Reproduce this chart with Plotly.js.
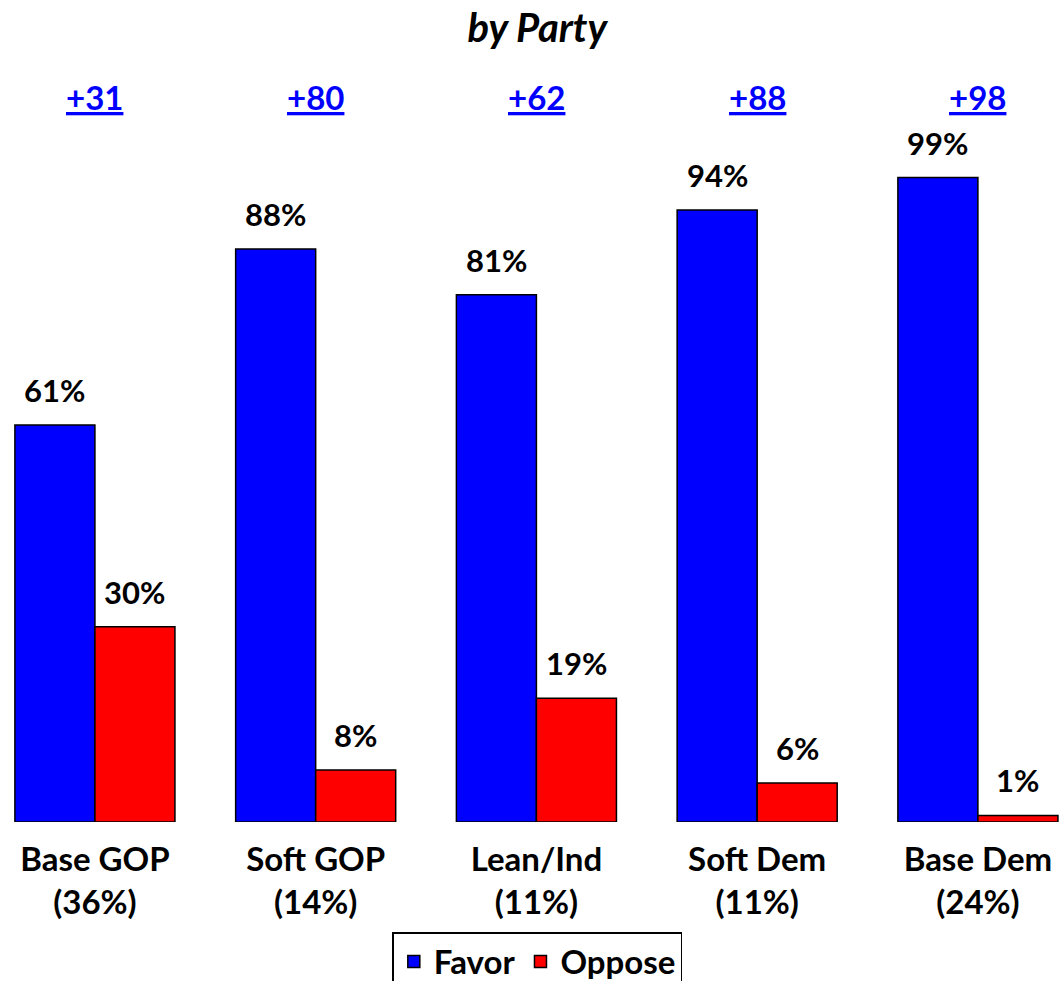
<!DOCTYPE html>
<html>
<head>
<meta charset="utf-8">
<script src="https://cdn.plot.ly/plotly-3.0.1.min.js"></script>
<style>html,body{margin:0;padding:0;background:#fff;}#chart{width:1064px;height:981px;}</style>
</head>
<body>
<div id="chart"></div>
<script>
const categories = ["Base GOP<br>(36%)", "Soft GOP<br>(14%)", "Lean/Ind<br>(11%)", "Soft Dem<br>(11%)", "Base Dem<br>(24%)"];
const favor = [61, 88, 81, 94, 99];
const oppose = [30, 8, 19, 6, 1];
const netLabels = ["+31", "+80", "+62", "+88", "+98"];

const FONT = "Lato, 'Open Sans', sans-serif";
const idx = categories.map((_, i) => i);
const barOffset = 0.181;

const traces = [
  {type: 'bar', name: 'Favor', x: idx, y: favor,
   marker: {color: '#0000FF', line: {color: '#000', width: 1.5}}},
  {type: 'bar', name: 'Oppose', x: idx, y: oppose,
   marker: {color: '#FF0000', line: {color: '#000', width: 1.5}}}
];

const annotations = [];
favor.forEach((v, i) => annotations.push({x: i - barOffset, y: v, xref: 'x', yref: 'y', text: '<b>' + v + '%</b>',
  showarrow: false, yanchor: 'bottom', yshift: 14, font: {family: FONT, size: 31, color: '#000'}}));
oppose.forEach((v, i) => annotations.push({x: i + barOffset, y: v, xref: 'x', yref: 'y', text: '<b>' + v + '%</b>',
  showarrow: false, yanchor: 'bottom', yshift: 14, font: {family: FONT, size: 31, color: '#000'}}));
netLabels.forEach((t, i) => annotations.push({x: i, y: 1.113, xref: 'x', yref: 'paper', text: '<b>' + t + '</b>',
  showarrow: false, yanchor: 'middle', font: {family: FONT, size: 33, color: '#0000FF', lineposition: 'under'}}));

const layout = {
  width: 1064, height: 981,
  margin: {l: 0, r: 0, t: 170.5, b: 159, autoexpand: false},
  paper_bgcolor: '#fff', plot_bgcolor: '#fff',
  title: {text: '<b><i>by Party</i></b>', x: 0.505, xanchor: 'center', y: 0.971, yanchor: 'middle',
    font: {family: FONT, size: 40, color: '#000'}},
  barmode: 'group', bargap: 0.275, bargroupgap: 0,
  xaxis: {range: [-0.43, 4.39], tickmode: 'array', tickvals: idx, ticktext: categories.map(c => '<b>' + c.replace('<br>', '</b><br><b>') + '</b>'),
    showgrid: false, zeroline: false, showline: false, ticks: 'outside', ticklen: 8, tickcolor: 'rgba(0,0,0,0)', automargin: false,
    tickfont: {family: FONT, size: 33, color: '#000'}},
  yaxis: {range: [0, 100], visible: false, showgrid: false, zeroline: false},
  showlegend: true,
  legend: {orientation: 'h', x: 0.505, xanchor: 'center', y: -0.169, yanchor: 'top',
    bordercolor: '#000', borderwidth: 1.5, bgcolor: '#fff',
    font: {family: FONT, size: 33, color: '#000', weight: 'bold'}, itemwidth: 30},
  annotations: annotations
};

Plotly.newPlot('chart', traces, layout, {displayModeBar: false, staticPlot: true});
</script>
</body>
</html>
